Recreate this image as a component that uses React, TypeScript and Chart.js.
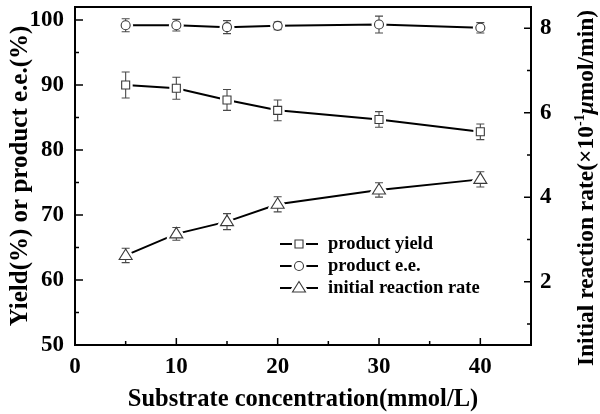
import React, { useEffect, useRef } from 'react';
import { Chart, registerables } from 'chart.js';

Chart.register(...registerables);

// ---- data ----
const concentrations = [5, 10, 15, 20, 30, 40];
const productYield = [90.0, 89.5, 87.7, 86.1, 84.7, 82.8];
const yieldErr = [2.0, 1.7, 1.6, 1.6, 1.2, 1.2];
const productEe = [99.2, 99.2, 98.9, 99.1, 99.3, 98.8];
const eeErr = [1.0, 0.9, 1.0, 0.6, 1.3, 0.8];
const reactionRate = [2.62, 3.13, 3.42, 3.83, 4.17, 4.42];
const rateErr = [0.17, 0.15, 0.19, 0.18, 0.17, 0.18];
const seriesNames = ['product yield', 'product e.e.', 'initial reaction rate'];
const xTickValues = [0, 5, 10, 15, 20, 25, 30, 35, 40, 45];
const xTickLabels = [0, 10, 20, 30, 40];
const leftTickValues = [50, 55, 60, 65, 70, 75, 80, 85, 90, 95, 100];
const leftTickLabels = [50, 60, 70, 80, 90, 100];
const rightTickValues = [1, 2, 3, 4, 5, 6, 7, 8];
const rightTickLabels = [2, 4, 6, 8];

const FONT = "'Liberation Serif', 'Times New Roman', serif";

function shapePath(ctx: CanvasRenderingContext2D, type: string, x: number, y: number, grow: number) {
  ctx.beginPath();
  if (type === 'rect') {
    const r = 4 + grow;
    ctx.rect(x - r, y - r, 2 * r, 2 * r);
  } else if (type === 'circle') {
    ctx.arc(x, y, 4.5 + grow, 0, Math.PI * 2);
  } else {
    const g = grow;
    ctx.moveTo(x, y - 6.5 - g * 1.6);
    ctx.lineTo(x - 6.5 - g * 1.4, y + 4 + g);
    ctx.lineTo(x + 6.5 + g * 1.4, y + 4 + g);
    ctx.closePath();
  }
}

function drawHalo(ctx: CanvasRenderingContext2D, type: string, x: number, y: number) {
  ctx.save();
  shapePath(ctx, type, x, y, 0);
  ctx.fillStyle = '#fff';
  ctx.strokeStyle = '#fff';
  ctx.lineWidth = 6;
  ctx.lineJoin = 'round';
  ctx.fill();
  ctx.stroke();
  ctx.restore();
}

function drawMarker(ctx: CanvasRenderingContext2D, type: string, x: number, y: number) {
  ctx.save();
  shapePath(ctx, type, x, y, 0);
  ctx.fillStyle = '#fff';
  ctx.fill();
  ctx.strokeStyle = '#3a3a3a';
  ctx.lineWidth = 1.1;
  ctx.stroke();
  ctx.restore();
}

const overlayPlugin = {
  id: 'overlay',
  afterDatasetsDraw(chart: any) {
    const ctx: CanvasRenderingContext2D = chart.ctx;
    const { left, right, top, bottom } = chart.chartArea;

    // markers with error bars
    chart.data.datasets.forEach((ds: any, di: number) => {
      const meta = chart.getDatasetMeta(di);
      const yScale = chart.scales[ds.yAxisID];
      meta.data.forEach((pt: any, i: number) => {
        const x = pt.x;
        const y = pt.y;
        drawHalo(ctx, ds.marker, x, y);
        const v = ds.data[i].y;
        const e = ds.errors[i];
        const yT = yScale.getPixelForValue(v + e);
        const yB = yScale.getPixelForValue(v - e);
        ctx.save();
        ctx.strokeStyle = '#4a4a4a';
        ctx.lineWidth = 1.1;
        ctx.beginPath();
        ctx.moveTo(x, yT);
        ctx.lineTo(x, yB);
        ctx.moveTo(x - 4, yT);
        ctx.lineTo(x + 4, yT);
        ctx.moveTo(x - 4, yB);
        ctx.lineTo(x + 4, yB);
        ctx.stroke();
        ctx.restore();
        drawMarker(ctx, ds.marker, x, y);
      });
    });

    // legend
    const legX0 = 280, legX1 = 318, legTextX = 328;
    const rowY = [244, 266, 288];
    chart.data.datasets.forEach((ds: any, di: number) => {
      const y = rowY[di];
      const mx = (legX0 + legX1) / 2;
      ctx.save();
      ctx.strokeStyle = '#000';
      ctx.lineWidth = 2;
      ctx.beginPath();
      ctx.moveTo(legX0, y);
      ctx.lineTo(legX1, y);
      ctx.stroke();
      ctx.restore();
      drawHalo(ctx, ds.marker, mx, y);
      drawMarker(ctx, ds.marker, mx, y);
      ctx.save();
      ctx.fillStyle = '#000';
      ctx.font = `bold 18.5px ${FONT}`;
      ctx.textBaseline = 'middle';
      ctx.textAlign = 'left';
      ctx.fillText(ds.label, legTextX, y);
      ctx.restore();
    });

    // frame
    ctx.save();
    ctx.strokeStyle = '#000';
    ctx.lineWidth = 2;
    ctx.strokeRect(left, top, right - left, bottom - top);

    // inward ticks
    ctx.lineWidth = 1.5;
    ctx.beginPath();
    const xs = chart.scales.x;
    xs.ticks.forEach((t: any) => {
      if (t.value <= 0 || t.value >= 45) return;
      const px = xs.getPixelForValue(t.value);
      const len = t.value % 10 === 0 ? 7 : 4;
      ctx.moveTo(px, bottom);
      ctx.lineTo(px, bottom - len);
    });
    const ys = chart.scales.y;
    ys.ticks.forEach((t: any) => {
      const py = ys.getPixelForValue(t.value);
      const len = t.value % 10 === 0 ? 8 : 4;
      ctx.moveTo(left, py);
      ctx.lineTo(left + len, py);
    });
    const y1 = chart.scales.y1;
    y1.ticks.forEach((t: any) => {
      const py = y1.getPixelForValue(t.value);
      const len = t.value % 2 === 0 ? 7 : 4;
      ctx.moveTo(right, py);
      ctx.lineTo(right - len, py);
    });
    ctx.stroke();
    ctx.restore();

    // right axis title (reads bottom to top)
    ctx.save();
    const parts = [
      { t: 'Initial reaction rate(\u00d710', f: `bold 23.5px ${FONT}`, dy: 0 },
      { t: '-1', f: `bold 14px ${FONT}`, dy: -7 },
      { t: '\u03bc', f: `italic bold 23.5px ${FONT}`, dy: 0 },
      { t: 'mol/min)', f: `bold 23.5px ${FONT}`, dy: 0 },
    ];
    let total = 0;
    const widths = parts.map((p) => {
      ctx.font = p.f;
      const w = ctx.measureText(p.t).width;
      total += w;
      return w;
    });
    ctx.translate(587, 188);
    ctx.rotate(-Math.PI / 2);
    ctx.fillStyle = '#000';
    ctx.textBaseline = 'middle';
    ctx.textAlign = 'left';
    let cx = -total / 2;
    parts.forEach((p, i) => {
      ctx.font = p.f;
      ctx.fillText(p.t, cx, p.dy);
      cx += widths[i];
    });
    ctx.restore();
  },
};

export default function App() {
  const ref = useRef<HTMLCanvasElement | null>(null);

  useEffect(() => {
    if (!ref.current) return;
    Chart.defaults.font.family = FONT;
    const tickFont = { size: 23, weight: 'bold' as const, family: FONT };

    const chart = new Chart(ref.current, {
      type: 'line',
      data: {
        datasets: [
          {
            label: seriesNames[0],
            data: productYield.map((v, i) => ({ x: concentrations[i], y: v })) as any,
            yAxisID: 'y',
            borderColor: '#000',
            borderWidth: 2,
            pointRadius: 0,
            marker: 'rect',
            errors: yieldErr,
          } as any,
          {
            label: seriesNames[1],
            data: productEe.map((v, i) => ({ x: concentrations[i], y: v })) as any,
            yAxisID: 'y',
            borderColor: '#000',
            borderWidth: 2,
            pointRadius: 0,
            marker: 'circle',
            errors: eeErr,
          } as any,
          {
            label: seriesNames[2],
            data: reactionRate.map((v, i) => ({ x: concentrations[i], y: v })) as any,
            yAxisID: 'y1',
            borderColor: '#000',
            borderWidth: 2,
            pointRadius: 0,
            marker: 'triangle',
            errors: rateErr,
          } as any,
        ],
      },
      options: {
        responsive: false,
        animation: false,
        layout: { padding: { top: 7, left: 0, right: 0, bottom: 0 } },
        plugins: { legend: { display: false }, tooltip: { enabled: false } },
        scales: {
          x: {
            type: 'linear',
            min: 0,
            max: 45,
            afterBuildTicks: (s: any) => {
              s.ticks = xTickValues.map((value) => ({ value }));
            },
            ticks: {
              autoSkip: false,
              maxRotation: 0,
              color: '#000',
              font: tickFont,
              padding: 8,
              callback: (v: any) => (xTickLabels.includes(v) ? String(v) : ''),
            },
            grid: { display: false, drawTicks: false },
            border: { display: false },
            title: {
              display: true,
              text: 'Substrate concentration(mmol/L)',
              color: '#000',
              font: { size: 24.5, weight: 'bold', family: FONT },
              padding: { top: 0, bottom: 0 },
            },
            afterFit: (s: any) => {
              s.height = 69;
              s.paddingLeft = 0;
              s.paddingRight = 0;
            },
          },
          y: {
            type: 'linear',
            position: 'left',
            min: 50,
            max: 102,
            afterBuildTicks: (s: any) => {
              s.ticks = leftTickValues.map((value) => ({ value }));
            },
            ticks: {
              autoSkip: false,
              color: '#000',
              font: tickFont,
              padding: 11,
              callback: (v: any) => (leftTickLabels.includes(v) ? String(v) : ''),
            },
            grid: { display: false, drawTicks: false },
            border: { display: false },
            title: {
              display: true,
              text: 'Yield(%) or product e.e.(%)',
              color: '#000',
              font: { size: 25, weight: 'bold', family: FONT },
              padding: { top: 6, bottom: 0 },
            },
            afterFit: (s: any) => {
              s.width = 75;
              s.paddingTop = 0;
              s.paddingBottom = 0;
            },
          },
          y1: {
            type: 'linear',
            position: 'right',
            min: 0.5,
            max: 8.5,
            afterBuildTicks: (s: any) => {
              s.ticks = rightTickValues.map((value) => ({ value }));
            },
            ticks: {
              autoSkip: false,
              color: '#000',
              font: tickFont,
              padding: 9,
              callback: (v: any) => (rightTickLabels.includes(v) ? String(v) : ''),
            },
            grid: { display: false, drawTicks: false, drawOnChartArea: false },
            border: { display: false },
            afterFit: (s: any) => {
              s.width = 69;
              s.paddingTop = 0;
              s.paddingBottom = 0;
            },
          },
        },
      },
      plugins: [overlayPlugin],
    });
    return () => chart.destroy();
  }, []);

  return (
    <div style={{ position: 'absolute', left: 0, top: 0, width: 600, height: 414, background: '#fff' }}>
      <canvas ref={ref} width={600} height={414} style={{ display: 'block' }} />
    </div>
  );
}
